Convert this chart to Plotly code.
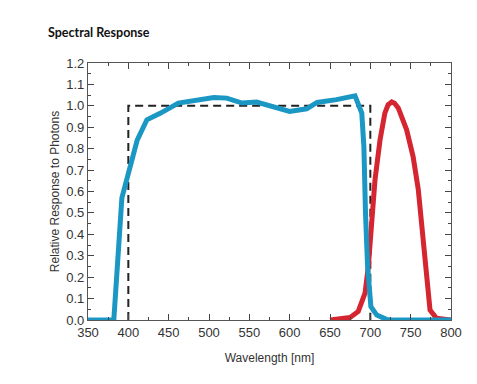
import plotly.graph_objects as go

blue_x = [350, 382, 392, 400.5, 411, 423, 440, 462, 481, 506, 522, 541, 559, 580, 600, 621, 634, 658, 681, 689.4, 692, 694, 696.6, 700.7, 708, 720, 726, 800]
blue_y = [0, 0, 0.57, 0.70, 0.84, 0.935, 0.966, 1.013, 1.025, 1.039, 1.036, 1.013, 1.018, 0.997, 0.974, 0.986, 1.016, 1.029, 1.047, 0.966, 0.81, 0.5, 0.25, 0.062, 0.023, 0.003, 0, 0]

red_x = [650, 675, 685, 693.4, 697.5, 701.6, 705.8, 712, 718, 722, 726.5, 730, 734.6, 745, 753, 759.4, 765.6, 769.8, 774, 782, 796, 800]
red_y = [0, 0.012, 0.04, 0.125, 0.25, 0.47, 0.655, 0.84, 0.966, 1.005, 1.018, 1.012, 0.99, 0.888, 0.763, 0.61, 0.374, 0.156, 0.047, 0.008, 0, 0]

ideal_x = [400, 400, 700, 700]
ideal_y = [0, 1.0, 1.0, 0]

fig = go.Figure()
fig.add_trace(go.Scatter(x=ideal_x, y=ideal_y, mode="lines",
                         line=dict(color="#222222", width=2, dash="8px,5px"), hoverinfo="skip"))
fig.add_trace(go.Scatter(x=red_x, y=red_y, mode="lines",
                         line=dict(color="#d42530", width=5)))
fig.add_trace(go.Scatter(x=blue_x, y=blue_y, mode="lines",
                         line=dict(color="#1b97c4", width=5)))

axis_common = dict(showline=True, linecolor="#555555", linewidth=1.2, mirror="allticks",
                   ticks="inside", ticklen=6, tickcolor="#444444", showgrid=False, zeroline=False,
                   tickfont=dict(family="Liberation Sans", size=13, color="#333333"))

fig.update_xaxes(range=[350, 800], dtick=50, tick0=350,
                 minor=dict(ticks="inside", ticklen=3, dtick=25, tickcolor="#444444"),
                 title=dict(text="Wavelength [nm]", font=dict(family="Liberation Sans", size=12, color="#333333"), standoff=14),
                 **axis_common)
fig.update_yaxes(range=[0, 1.2], dtick=0.1, tick0=0, tickformat=".1f",
                 minor=dict(ticks="inside", ticklen=3, dtick=0.05, tickcolor="#444444"),
                 title=dict(text="Relative Response to Photons", font=dict(family="Liberation Sans", size=12, color="#333333"), standoff=4),
                 **axis_common)

fig.add_annotation(text="<b>Spectral Response</b>", xref="paper", yref="paper",
                   x=-0.117, y=1.117, xanchor="left", yanchor="middle", showarrow=False,
                   font=dict(family="Lato", size=12.5, color="#111111"))

fig.update_layout(width=469, height=376, margin=dict(l=80, r=26, t=55, b=64),
                  paper_bgcolor="white", plot_bgcolor="white", showlegend=False)

fig.write_html("out.html")
